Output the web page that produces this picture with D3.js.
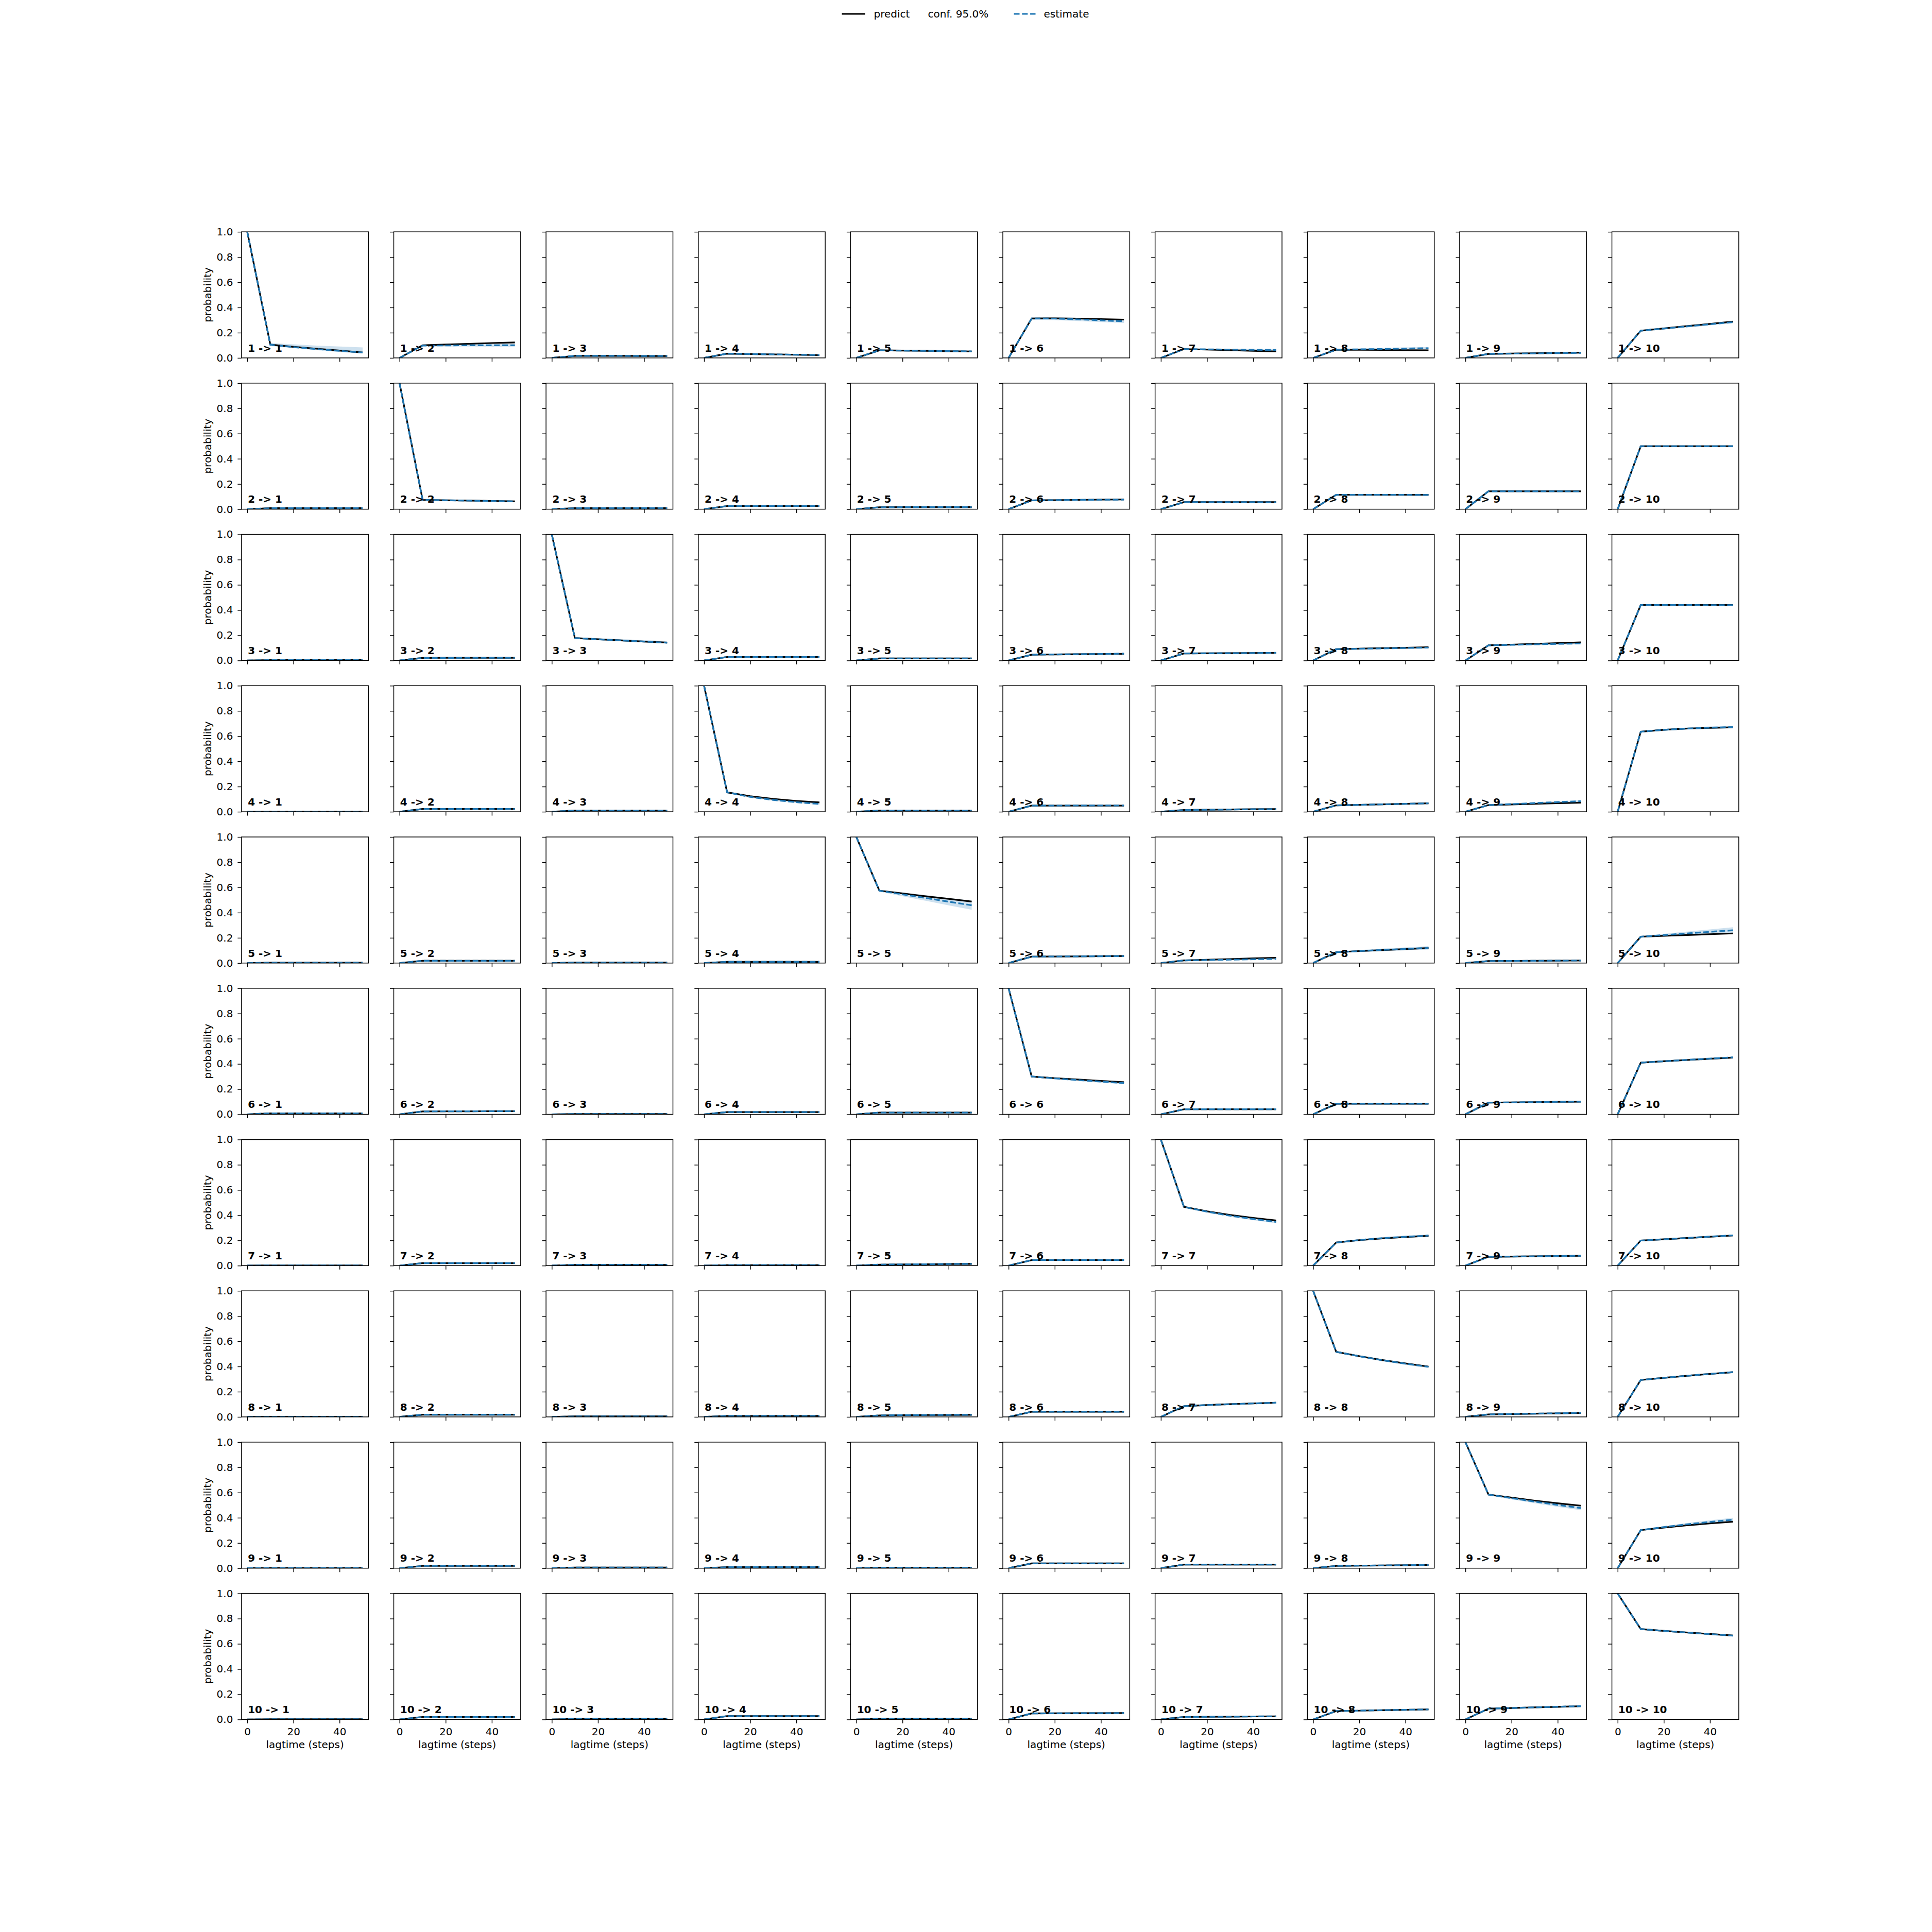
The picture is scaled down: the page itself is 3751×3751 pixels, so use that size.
<!DOCTYPE html>
<html><head><meta charset="utf-8">
<script src="https://cdn.jsdelivr.net/npm/d3@7"></script>
<style>body{margin:0;background:#fff}</style>
</head><body><svg id="chart"></svg>
<script>
const lagtimes = [0, 10, 20, 30, 40, 50];
const states = ["1","2","3","4","5","6","7","8","9","10"];
const xTickValues = [0, 20, 40];
const yTickValues = [0, 0.2, 0.4, 0.6, 0.8, 1.0];
const legendLabels = ["predict", "conf. 95.0%", "estimate"];
const xLabel = "lagtime (steps)";
const yLabel = "probability";

const predict = [
 [[1,.105,.088,.073,.058,.043],[0,.100,.106,.112,.118,.123],[0,.016,.016,.016,.015,.015],[0,.034,.031,.028,.025,.022],[0,.060,.058,.056,.053,.051],[0,.313,.314,.312,.308,.304],[0,.070,.066,.061,.056,.051],[0,.065,.064,.063,.061,.060],[0,.032,.035,.037,.040,.042],[0,.216,.234,.252,.270,.288]],
 [[0,.008,.008,.008,.008,.008],[1,.074,.071,.068,.065,.062],[0,.008,.008,.008,.008,.008],[0,.025,.025,.025,.025,.025],[0,.015,.016,.016,.016,.016],[0,.070,.072,.074,.076,.077],[0,.056,.056,.056,.056,.056],[0,.114,.114,.114,.114,.114],[0,.142,.142,.142,.142,.142],[0,.500,.500,.500,.500,.500]],
 [[0,.003,.003,.003,.003,.003],[0,.020,.021,.021,.021,.021],[1,.178,.168,.159,.150,.142],[0,.028,.028,.028,.028,.028],[0,.016,.016,.016,.016,.016],[0,.046,.048,.050,.051,.053],[0,.056,.057,.058,.059,.060],[0,.090,.094,.098,.101,.105],[0,.120,.126,.132,.138,.144],[0,.440,.440,.440,.440,.440]],
 [[0,.002,.002,.002,.002,.002],[0,.022,.022,.022,.022,.022],[0,.010,.010,.010,.010,.010],[1,.154,.123,.102,.086,.074],[0,.010,.010,.010,.010,.010],[0,.049,.049,.049,.049,.049],[0,.014,.016,.018,.020,.021],[0,.051,.055,.059,.063,.067],[0,.053,.058,.063,.068,.072],[0,.635,.650,.660,.666,.670]],
 [[0,.003,.003,.003,.003,.003],[0,.018,.018,.018,.018,.018],[0,.004,.004,.004,.004,.004],[0,.010,.010,.010,.010,.010],[1,.574,.552,.530,.509,.488],[0,.051,.052,.053,.055,.056],[0,.021,.026,.031,.037,.042],[0,.086,.095,.103,.111,.119],[0,.016,.017,.018,.019,.020],[0,.209,.216,.222,.229,.235]],
 [[0,.008,.008,.008,.008,.008],[0,.023,.024,.024,.025,.025],[0,.003,.003,.003,.003,.003],[0,.018,.018,.018,.018,.018],[0,.014,.014,.014,.014,.014],[1,.300,.287,.276,.265,.255],[0,.040,.040,.040,.040,.040],[0,.084,.084,.084,.084,.084],[0,.093,.095,.097,.099,.100],[0,.410,.421,.431,.441,.450]],
 [[0,.002,.002,.002,.002,.002],[0,.020,.020,.020,.020,.020],[0,.006,.006,.006,.006,.006],[0,.004,.004,.004,.004,.004],[0,.008,.010,.011,.013,.014],[0,.044,.044,.044,.044,.044],[1,.466,.431,.402,.378,.358],[0,.183,.202,.216,.227,.236],[0,.070,.072,.074,.076,.078],[0,.199,.209,.219,.229,.239]],
 [[0,.001,.001,.001,.001,.001],[0,.018,.018,.018,.018,.018],[0,.004,.004,.004,.004,.004],[0,.008,.008,.008,.008,.008],[0,.012,.014,.015,.016,.017],[0,.041,.041,.041,.041,.041],[0,.085,.094,.101,.107,.113],[1,.516,.482,.451,.424,.399],[0,.020,.023,.026,.028,.031],[0,.293,.310,.326,.341,.355]],
 [[0,.001,.001,.001,.001,.001],[0,.018,.018,.018,.018,.018],[0,.005,.005,.005,.005,.005],[0,.008,.008,.008,.008,.008],[0,.004,.004,.004,.004,.004],[0,.038,.038,.038,.038,.038],[0,.029,.029,.029,.029,.029],[0,.018,.020,.022,.024,.026],[1,.584,.560,.536,.515,.496],[0,.302,.322,.340,.355,.369]],
 [[0,.002,.002,.002,.002,.002],[0,.020,.020,.020,.020,.020],[0,.005,.005,.005,.005,.005],[0,.027,.027,.027,.027,.027],[0,.006,.006,.006,.006,.006],[0,.048,.049,.050,.050,.051],[0,.020,.021,.022,.024,.025],[0,.067,.070,.074,.077,.080],[0,.086,.091,.096,.100,.105],[1,.717,.703,.690,.678,.666]]
];

const estimate = [
 [[1,.105,.086,.070,.056,.043],[0,.098,.099,.100,.100,.100],[0,.016,.016,.016,.015,.015],[0,.034,.031,.028,.025,.023],[0,.060,.058,.056,.054,.052],[0,.313,.312,.306,.298,.290],[0,.070,.068,.066,.064,.063],[0,.065,.068,.071,.074,.077],[0,.032,.034,.036,.038,.040],[0,.216,.233,.250,.267,.284]],
 [[0,.008,.008,.008,.008,.008],[1,.074,.071,.068,.065,.062],[0,.008,.008,.008,.008,.008],[0,.025,.025,.025,.025,.025],[0,.015,.016,.016,.016,.016],[0,.070,.072,.074,.075,.076],[0,.056,.056,.056,.056,.055],[0,.114,.114,.114,.114,.113],[0,.142,.142,.142,.142,.141],[0,.500,.500,.500,.499,.499]],
 [[0,.003,.003,.003,.003,.003],[0,.020,.020,.021,.021,.021],[1,.178,.168,.159,.150,.141],[0,.028,.028,.028,.028,.028],[0,.016,.016,.016,.016,.016],[0,.046,.048,.050,.052,.054],[0,.056,.057,.058,.059,.061],[0,.090,.093,.096,.099,.102],[0,.120,.124,.128,.132,.135],[0,.440,.440,.440,.439,.439]],
 [[0,.002,.002,.002,.002,.002],[0,.022,.022,.022,.022,.022],[0,.010,.010,.010,.010,.010],[1,.154,.118,.094,.076,.062],[0,.010,.010,.010,.010,.010],[0,.049,.049,.050,.050,.050],[0,.014,.016,.018,.020,.021],[0,.051,.055,.059,.063,.067],[0,.053,.061,.069,.077,.084],[0,.635,.650,.660,.667,.672]],
 [[0,.003,.003,.003,.003,.003],[0,.018,.018,.018,.018,.018],[0,.004,.004,.004,.004,.004],[0,.010,.010,.010,.010,.010],[1,.574,.545,.516,.487,.458],[0,.051,.052,.053,.054,.055],[0,.021,.024,.027,.030,.033],[0,.086,.095,.104,.112,.120],[0,.016,.017,.018,.019,.020],[0,.209,.222,.235,.248,.260]],
 [[0,.008,.008,.008,.008,.008],[0,.023,.024,.024,.025,.025],[0,.003,.003,.003,.003,.003],[0,.018,.018,.018,.018,.018],[0,.014,.014,.014,.014,.014],[1,.300,.285,.272,.260,.248],[0,.040,.040,.040,.040,.040],[0,.084,.084,.084,.084,.084],[0,.093,.095,.097,.099,.101],[0,.410,.421,.432,.442,.452]],
 [[0,.002,.002,.002,.002,.002],[0,.020,.020,.020,.020,.020],[0,.006,.006,.006,.006,.006],[0,.004,.004,.004,.004,.004],[0,.008,.010,.011,.013,.014],[0,.044,.044,.044,.044,.044],[1,.466,.428,.396,.370,.347],[0,.183,.203,.218,.229,.238],[0,.070,.072,.074,.076,.078],[0,.199,.209,.219,.230,.240]],
 [[0,.001,.001,.001,.001,.001],[0,.018,.018,.018,.018,.018],[0,.004,.004,.004,.004,.004],[0,.008,.008,.008,.008,.008],[0,.012,.014,.015,.016,.017],[0,.041,.041,.041,.041,.041],[0,.085,.094,.101,.107,.113],[1,.516,.481,.450,.422,.397],[0,.020,.023,.026,.029,.032],[0,.293,.310,.326,.341,.355]],
 [[0,.001,.001,.001,.001,.001],[0,.018,.018,.018,.018,.018],[0,.005,.005,.005,.005,.005],[0,.008,.008,.008,.008,.008],[0,.004,.004,.004,.004,.004],[0,.038,.038,.038,.038,.038],[0,.029,.029,.029,.029,.029],[0,.018,.020,.022,.024,.026],[1,.584,.556,.528,.502,.477],[0,.302,.326,.348,.367,.384]],
 [[0,.002,.002,.002,.002,.002],[0,.020,.020,.020,.020,.020],[0,.005,.005,.005,.005,.005],[0,.027,.027,.027,.027,.027],[0,.006,.006,.006,.006,.006],[0,.048,.049,.050,.050,.051],[0,.020,.021,.022,.024,.025],[0,.067,.070,.074,.077,.080],[0,.086,.091,.096,.101,.106],[1,.717,.703,.690,.677,.665]]
];

const confLower = [
 [[1,.095,.078,.062,.048,.035],[0,.090,.090,.090,.089,.088],[0,.013,.013,.013,.012,.012],[0,.030,.027,.024,.021,.019],[0,.056,.054,.052,.050,.047],[0,.302,.300,.293,.285,.277],[0,.065,.062,.059,.057,.055],[0,.059,.061,.063,.065,.067],[0,.029,.030,.032,.033,.035],[0,.209,.225,.241,.258,.274]],
 [[0,.006,.006,.006,.006,.006],[1,.070,.067,.064,.061,.058],[0,.006,.006,.006,.006,.006],[0,.022,.022,.022,.022,.022],[0,.013,.013,.013,.013,.013],[0,.066,.068,.069,.070,.071],[0,.052,.052,.052,.052,.051],[0,.109,.109,.109,.108,.107],[0,.137,.137,.137,.136,.135],[0,.494,.494,.493,.492,.491]],
 [[0,.002,.002,.002,.002,.002],[0,.017,.017,.018,.018,.018],[1,.174,.163,.154,.145,.136],[0,.025,.025,.025,.025,.025],[0,.013,.013,.013,.013,.013],[0,.042,.044,.046,.047,.049],[0,.052,.053,.054,.055,.056],[0,.085,.088,.091,.093,.096],[0,.114,.118,.121,.125,.128],[0,.434,.434,.433,.432,.431]],
 [[0,.001,.001,.001,.001,.001],[0,.019,.019,.019,.019,.019],[0,.008,.008,.008,.008,.008],[1,.148,.111,.087,.069,.055],[0,.008,.008,.008,.008,.008],[0,.045,.045,.046,.046,.046],[0,.012,.014,.015,.017,.018],[0,.047,.051,.054,.058,.061],[0,.049,.056,.064,.071,.077],[0,.629,.643,.652,.658,.662]],
 [[0,.002,.002,.002,.002,.002],[0,.015,.015,.015,.015,.015],[0,.003,.003,.003,.003,.003],[0,.008,.008,.008,.008,.008],[1,.566,.530,.494,.458,.423],[0,.047,.047,.047,.047,.047],[0,.018,.020,.023,.025,.027],[0,.080,.087,.094,.101,.107],[0,.014,.015,.016,.016,.017],[0,.203,.212,.221,.230,.240]],
 [[0,.006,.006,.006,.006,.006],[0,.020,.021,.021,.021,.021],[0,.002,.002,.002,.002,.002],[0,.015,.015,.015,.015,.015],[0,.012,.012,.012,.012,.012],[1,.294,.278,.264,.251,.239],[0,.037,.037,.037,.037,.037],[0,.080,.080,.080,.080,.079],[0,.089,.090,.092,.094,.095],[0,.404,.414,.424,.434,.444]],
 [[0,.001,.001,.001,.001,.001],[0,.017,.017,.017,.017,.017],[0,.004,.004,.004,.004,.004],[0,.003,.003,.003,.003,.003],[0,.006,.008,.009,.010,.011],[0,.041,.041,.041,.041,.041],[1,.460,.420,.387,.360,.336],[0,.177,.196,.210,.220,.228],[0,.066,.068,.070,.071,.073],[0,.194,.203,.213,.223,.233]],
 [[0,.000,.000,.000,.000,.000],[0,.015,.015,.015,.015,.015],[0,.003,.003,.003,.003,.003],[0,.006,.006,.006,.006,.006],[0,.010,.011,.012,.013,.014],[0,.038,.038,.038,.038,.038],[0,.081,.089,.096,.102,.107],[1,.510,.474,.442,.414,.389],[0,.017,.020,.022,.025,.027],[0,.288,.304,.319,.334,.347]],
 [[0,.000,.000,.000,.000,.000],[0,.015,.015,.015,.015,.015],[0,.003,.003,.003,.003,.003],[0,.006,.006,.006,.006,.006],[0,.003,.003,.003,.003,.003],[0,.035,.035,.035,.035,.035],[0,.026,.026,.026,.026,.026],[0,.015,.017,.019,.020,.022],[1,.578,.546,.515,.487,.460],[0,.297,.318,.338,.356,.371]],
 [[0,.001,.001,.001,.001,.001],[0,.017,.017,.017,.017,.017],[0,.003,.003,.003,.003,.003],[0,.024,.024,.024,.024,.024],[0,.004,.004,.004,.004,.004],[0,.045,.046,.046,.046,.047],[0,.017,.018,.019,.020,.021],[0,.063,.066,.069,.072,.075],[0,.082,.086,.091,.095,.099],[1,.712,.697,.683,.670,.657]]
];

const confUpper = [
 [[1,.118,.108,.098,.090,.083],[0,.106,.108,.110,.111,.112],[0,.019,.019,.019,.019,.019],[0,.038,.035,.032,.029,.027],[0,.064,.062,.060,.058,.057],[0,.323,.323,.318,.311,.304],[0,.075,.073,.072,.071,.070],[0,.071,.075,.079,.083,.086],[0,.035,.038,.040,.043,.045],[0,.222,.240,.258,.275,.292]],
 [[0,.010,.010,.010,.010,.010],[1,.078,.075,.072,.069,.066],[0,.010,.010,.010,.010,.010],[0,.028,.028,.028,.028,.028],[0,.018,.019,.019,.019,.019],[0,.074,.076,.079,.080,.081],[0,.060,.060,.060,.060,.059],[0,.119,.119,.119,.120,.119],[0,.147,.147,.147,.148,.147],[0,.506,.506,.507,.506,.507]],
 [[0,.005,.005,.005,.005,.005],[0,.023,.023,.024,.024,.024],[1,.184,.176,.169,.161,.154],[0,.031,.031,.031,.031,.031],[0,.019,.019,.019,.019,.019],[0,.050,.052,.054,.057,.059],[0,.060,.061,.062,.064,.066],[0,.095,.098,.101,.105,.108],[0,.126,.130,.135,.139,.142],[0,.446,.446,.447,.446,.447]],
 [[0,.004,.004,.004,.004,.004],[0,.025,.025,.025,.025,.025],[0,.012,.012,.012,.012,.012],[1,.160,.125,.101,.083,.069],[0,.012,.012,.012,.012,.012],[0,.053,.053,.054,.054,.054],[0,.016,.018,.021,.023,.024],[0,.055,.059,.064,.068,.073],[0,.057,.066,.074,.083,.091],[0,.641,.657,.668,.676,.682]],
 [[0,.004,.004,.004,.004,.004],[0,.021,.021,.021,.021,.021],[0,.006,.006,.006,.006,.006],[0,.012,.012,.012,.012,.012],[1,.582,.560,.538,.516,.495],[0,.056,.058,.060,.062,.064],[0,.024,.028,.031,.035,.039],[0,.092,.103,.114,.124,.134],[0,.018,.019,.020,.022,.023],[0,.215,.232,.249,.267,.284]],
 [[0,.010,.010,.010,.010,.010],[0,.026,.027,.027,.028,.028],[0,.005,.005,.005,.005,.005],[0,.021,.021,.021,.021,.021],[0,.016,.016,.016,.016,.016],[1,.306,.292,.280,.269,.258],[0,.043,.043,.043,.043,.043],[0,.088,.088,.088,.089,.089],[0,.097,.100,.102,.104,.107],[0,.416,.428,.440,.450,.460]],
 [[0,.003,.003,.003,.003,.003],[0,.023,.023,.023,.023,.023],[0,.008,.008,.008,.008,.008],[0,.006,.006,.006,.006,.006],[0,.010,.012,.014,.016,.018],[0,.047,.047,.047,.047,.047],[1,.472,.436,.405,.380,.358],[0,.189,.210,.226,.238,.248],[0,.074,.076,.078,.081,.083],[0,.204,.215,.225,.237,.247]],
 [[0,.002,.002,.002,.002,.002],[0,.021,.021,.021,.021,.021],[0,.005,.005,.005,.005,.005],[0,.010,.010,.010,.010,.010],[0,.014,.017,.018,.019,.020],[0,.044,.044,.044,.044,.044],[0,.089,.099,.106,.112,.119],[1,.522,.488,.458,.430,.405],[0,.023,.026,.030,.033,.037],[0,.298,.316,.333,.348,.363]],
 [[0,.002,.002,.002,.002,.002],[0,.021,.021,.021,.021,.021],[0,.007,.007,.007,.007,.007],[0,.010,.010,.010,.010,.010],[0,.005,.005,.005,.005,.005],[0,.041,.041,.041,.041,.041],[0,.032,.032,.032,.032,.032],[0,.021,.023,.025,.028,.030],[1,.590,.564,.539,.515,.492],[0,.307,.334,.358,.380,.400]],
 [[0,.003,.003,.003,.003,.003],[0,.023,.023,.023,.023,.023],[0,.007,.007,.007,.007,.007],[0,.030,.030,.030,.030,.030],[0,.008,.008,.008,.008,.008],[0,.051,.052,.054,.054,.055],[0,.023,.024,.025,.028,.029],[0,.071,.074,.079,.082,.085],[0,.090,.096,.101,.107,.113],[1,.722,.709,.697,.684,.673]]
];

// ---------- drawing ----------
const W = 3751, H = 3751;
const FONT = "'DejaVu Sans', sans-serif";
const FS = 20;
const BLUE = "#1f77b4";
const svg = d3.select("#chart").attr("width", W).attr("height", H)
  .style("font-family", FONT);
svg.append("rect").attr("width", W).attr("height", H).attr("fill", "#fff");

const n = states.length;
const L = 0.125 * W, R = 0.9 * W, T = (1 - 0.88) * H, B = (1 - 0.11) * H;
const cw = (R - L) / (n + (n - 1) * 0.2);
const ch = (B - T) / (n + (n - 1) * 0.2);

const x = d3.scaleLinear().domain([-2.5, 52.5]).range([0, cw]);
const y = d3.scaleLinear().domain([0, 1]).range([ch, 0]);
const line = d3.line().x((d, k) => x(lagtimes[k])).y(d => y(d));
const area = d3.area().x(d => x(d.t)).y0(d => y(d.lo)).y1(d => y(d.hi));

const defs = svg.append("defs");
defs.append("clipPath").attr("id", "axclip")
  .append("rect").attr("x", 0).attr("y", 0).attr("width", cw).attr("height", ch);

const TICK = 7.5, PAD = 9;

for (let i = 0; i < n; i++) {
  for (let j = 0; j < n; j++) {
    const gx = L + j * cw * 1.2, gy = T + i * ch * 1.2;
    const g = svg.append("g").attr("transform", `translate(${gx},${gy})`);
    const plot = g.append("g").attr("clip-path", "url(#axclip)");

    const band = lagtimes.map((t, k) => ({ t, lo: confLower[i][j][k], hi: confUpper[i][j][k] }));
    plot.append("path").attr("d", area(band))
      .attr("fill", BLUE).attr("fill-opacity", 0.22).attr("stroke", "none");
    plot.append("path").attr("d", line(predict[i][j]))
      .attr("fill", "none").attr("stroke", "#000").attr("stroke-width", 3.2)
      .attr("stroke-linejoin", "round");
    plot.append("path").attr("d", line(estimate[i][j]))
      .attr("fill", "none").attr("stroke", BLUE).attr("stroke-width", 3.2)
      .attr("stroke-dasharray", "11,4.8");

    // label
    g.append("text").attr("x", 0.05 * cw).attr("y", ch - 0.05 * ch)
      .attr("font-size", 20).attr("font-weight", "bold").attr("fill", "#000")
      .text(`${states[i]} -> ${states[j]}`);

    // axes
    const ya = d3.axisLeft(y).tickValues(yTickValues).tickSize(TICK).tickPadding(PAD)
      .tickFormat(j === 0 ? d3.format(".1f") : () => "");
    const yg = g.append("g").call(ya);
    const xa = d3.axisBottom(x).tickValues(xTickValues).tickSize(TICK).tickPadding(PAD)
      .tickFormat(i === n - 1 ? d3.format("d") : () => "");
    const xg = g.append("g").attr("transform", `translate(0,${ch})`).call(xa);
    [yg, xg].forEach(a => {
      a.select(".domain").remove();
      a.selectAll(".tick line").attr("stroke", "#000").attr("stroke-width", 1.4);
      a.selectAll(".tick text").attr("font-size", FS).attr("font-family", FONT).attr("fill", "#000");
    });

    // spines
    g.append("rect").attr("x", 0).attr("y", 0).attr("width", cw).attr("height", ch)
      .attr("fill", "none").attr("stroke", "#000").attr("stroke-width", 1.5);

    if (j === 0) {
      g.append("text").attr("transform", `translate(${-59},${ch / 2}) rotate(-90)`)
        .attr("text-anchor", "middle").attr("font-size", FS).text(yLabel);
    }
    if (i === n - 1) {
      g.append("text").attr("x", cw / 2).attr("y", ch + 56)
        .attr("text-anchor", "middle").attr("font-size", FS).text(xLabel);
    }
  }
}

// legend
const lg = svg.append("g").attr("transform", `translate(${W / 2},0)`);
const ly = 27, lby = 34;
lg.append("line").attr("x1", -241).attr("x2", -196).attr("y1", ly).attr("y2", ly)
  .attr("stroke", "#000").attr("stroke-width", 3.2);
lg.append("text").attr("x", -179).attr("y", lby).attr("font-size", FS).text(legendLabels[0]);
lg.append("text").attr("x", -74).attr("y", lby).attr("font-size", FS).text(legendLabels[1]);
lg.append("line").attr("x1", 93).attr("x2", 135).attr("y1", ly).attr("y2", ly)
  .attr("stroke", BLUE).attr("stroke-width", 3.2).attr("stroke-dasharray", "11,4.8");
lg.append("text").attr("x", 151).attr("y", lby).attr("font-size", FS).text(legendLabels[2]);
</script>
</body></html>
